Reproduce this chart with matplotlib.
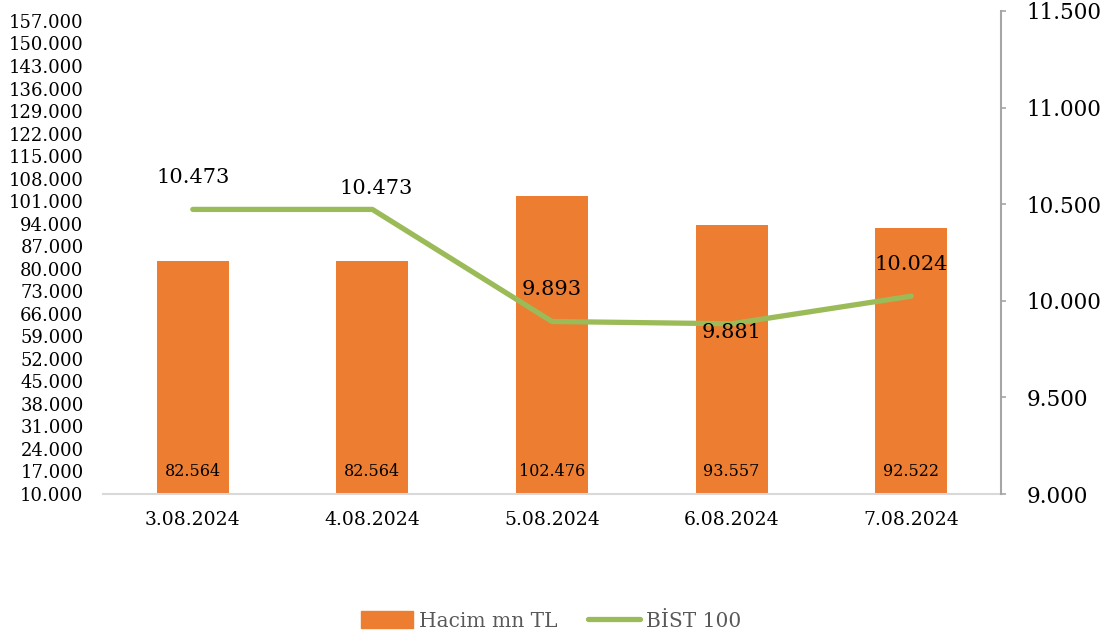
import numpy as np
import matplotlib
matplotlib.use("Agg")
import matplotlib.pyplot as plt
from matplotlib.lines import Line2D
from matplotlib.patches import Patch

# ── data ───────────────────────────────────────────────────────────────
dates  = ["3.08.2024", "4.08.2024", "5.08.2024", "6.08.2024", "7.08.2024"]
hacim  = [82564, 82564, 102476, 93557, 92522]     # mn TL (left axis)
bist   = [10473, 10473, 9893, 9881, 10024]        # BIST 100 (right axis)

left_ticks  = list(range(10000, 157001, 7000))
right_ticks = [9000, 9500, 10000, 10500, 11000, 11500]

BAR_C  = "#ED7D31"
LINE_C = "#9BBB59"
FONT   = "DejaVu Serif"


def tr(v):
    # Turkish thousands separator
    return f"{v:,.0f}".replace(",", ".")


plt.rcParams["font.family"] = FONT

fig = plt.figure(figsize=(11.09, 6.39), dpi=100)
ax = fig.add_axes([0.0929, 0.2269, 0.8097, 0.7559])
x = np.arange(len(dates))

# bars from 10.000 baseline
base = left_ticks[0]
ax.bar(x, np.array(hacim) - base, bottom=base, width=0.4, color=BAR_C, zorder=2)
ax.set_xlim(-0.5, len(dates) - 0.5)
ax.set_ylim(base, 160100)
ax.set_yticks(left_ticks)
ax.set_yticklabels([tr(v) for v in left_ticks], fontsize=13)
ax.tick_params(axis="y", length=0, pad=14)
ax.set_xticks(x)
ax.set_xticklabels(dates, fontsize=13.5)
ax.tick_params(axis="x", length=0, pad=12)
for s in ["top", "left", "right"]:
    ax.spines[s].set_visible(False)
ax.spines["bottom"].set_color("#D9D9D9")
ax.spines["bottom"].set_linewidth(1.5)

for xi, v in zip(x, hacim):
    ax.annotate(tr(v), (xi, base), xytext=(0, 16.5), textcoords="offset points",
                ha="center", va="center", fontsize=11.5)

# line on secondary axis
ax2 = ax.twinx()
ax2.plot(x, bist, color=LINE_C, lw=3.8, solid_capstyle="round", zorder=3)
ax2.set_ylim(9000, 11500)
ax2.set_yticks(right_ticks)
ax2.set_yticklabels([tr(v) for v in right_ticks], fontsize=15.5)
ax2.tick_params(axis="y", length=3.6, width=1.2, color="#A6A6A6", pad=15)
for s in ["top", "left", "bottom"]:
    ax2.spines[s].set_visible(False)
ax2.spines["right"].set_color("#A6A6A6")
ax2.spines["right"].set_linewidth(1.5)

lbl_off = [(0, 23), (3, 15), (0, 23), (0, -6), (0, 23)]
for xi, v, off in zip(x, bist, lbl_off):
    ax2.annotate(tr(v), (xi, v), xytext=off, textcoords="offset points",
                 ha="center", va="center", fontsize=15)

handles = [Patch(color=BAR_C), Line2D([0], [0], color=LINE_C, lw=3.8, solid_capstyle="round")]
leg = fig.legend(handles, ["Hacim mn TL", "BİST 100"], loc="center", ncol=2,
                 bbox_to_anchor=(0.497, 0.028), frameon=False, fontsize=14.5,
                 handlelength=2.6, handleheight=0.9, columnspacing=1.5, handletextpad=0.3)
for t in leg.get_texts():
    t.set_color("#595959")

fig.savefig("out.png", dpi=100)
